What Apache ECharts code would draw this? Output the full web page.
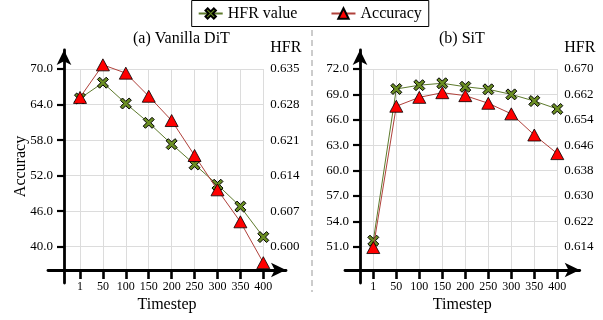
<!DOCTYPE html>
<html>
<head>
<meta charset="utf-8">
<script src="https://cdn.jsdelivr.net/npm/echarts@6/dist/echarts.min.js"></script>
<style>
  html, body { margin: 0; padding: 0; background: #fff; }
  #chart { width: 603px; height: 320px; }
</style>
</head>
<body>
<div id="chart"></div>
<script>
// timesteps on the x axis
const categories = ['1', '50', '100', '150', '200', '250', '300', '350', '400'];

// (a) Vanilla DiT
const ditHfr = [0.6292, 0.6323, 0.6282, 0.6244, 0.6202, 0.6162, 0.6122, 0.6079, 0.6019];
const ditAcc = [65.2, 70.7, 69.3, 65.4, 61.3, 55.4, 49.6, 44.2, 37.3];
const ditAccTicks = [40, 46, 52, 58, 64, 70];
const ditHfrTicks = [0.600, 0.607, 0.614, 0.621, 0.628, 0.635];

// (b) SiT
const sitHfr = [0.6159, 0.6637, 0.6649, 0.6655, 0.6644, 0.6636, 0.6620, 0.6599, 0.6574];
const sitAcc = [50.9, 67.6, 68.65, 69.2, 68.85, 67.95, 66.7, 64.2, 62.0];
const sitAccTicks = [51, 54, 57, 60, 63, 66, 69, 72];
const sitHfrTicks = [0.614, 0.622, 0.630, 0.638, 0.646, 0.654, 0.662, 0.670];

const FONT = 'Liberation Serif';
const W = 603, H = 320;
const TOP = 69, BOTTOM = 270, LOW_TICK_Y = 246.7;
const ARROW_TOP = 50, AXIS_END = 283;
const X_PATH = 'path://M2,0 L5,3 L8,0 L10,2 L7,5 L10,8 L8,10 L5,7 L2,10 L0,8 L3,5 L0,2 Z';

const panels = [
  { title: '(a) Vanilla DiT', titleLeft: 133, x0: 48, x1: 286, axisX: 64, cat0: 80, cat1: 263.3,
    acc: ditAcc, hfr: ditHfr, accTicks: ditAccTicks, hfrTicks: ditHfrTicks, yName: 'Accuracy' },
  { title: '(b) SiT', titleLeft: 439, x0: 345, x1: 579.7, axisX: 360, cat0: 373.3, cat1: 557.3,
    acc: sitAcc, hfr: sitHfr, accTicks: sitAccTicks, hfrTicks: sitHfrTicks, yName: '' },
];

// axis range so that the lowest tick sits above the x axis line
function range(ticks) {
  const max = ticks[ticks.length - 1];
  const ext = (BOTTOM - TOP) / (LOW_TICK_Y - TOP);
  return { min: max - (max - ticks[0]) * ext, max };
}

const arrowLine = {
  show: true, onZero: false, symbol: ['none', 'arrow'], symbolSize: [11, 15],
  lineStyle: { color: '#000', width: 2.8 },
};

const grid = [], xAxis = [], yAxis = [], series = [], title = [];

panels.forEach((p, i) => {
  const g = grid.length;
  grid.push(
    { left: p.x0, right: W - p.x1, top: ARROW_TOP, bottom: H - AXIS_END },
    { left: p.axisX, right: W - p.cat1, top: TOP, bottom: H - BOTTOM },
    { left: p.cat0, right: W - p.cat1, top: TOP, bottom: H - BOTTOM },
  );
  const accR = range(p.accTicks);
  const hfrR = range(p.hfrTicks);

  const xi = xAxis.length;
  xAxis.push(
    {
      gridIndex: g, type: 'value', min: 0, max: 1, offset: -(AXIS_END - BOTTOM), z: 5,
      axisLine: arrowLine, axisTick: { show: false }, axisLabel: { show: false }, splitLine: { show: false },
      name: 'Timestep', nameLocation: 'middle', nameGap: 27,
      nameTextStyle: { fontFamily: FONT, fontSize: 16, color: '#000' },
    },
    { gridIndex: g + 1, type: 'value', show: false },
    {
      gridIndex: g + 2, type: 'category', data: categories, boundaryGap: false,
      axisLine: { show: false },
      axisTick: { show: true, interval: 0, length: 9, lineStyle: { color: '#000', width: 2.6 } },
      axisLabel: { interval: 0, margin: 11, fontFamily: FONT, fontSize: 12, color: '#000' },
      splitLine: { show: true, interval: 0, lineStyle: { color: '#dcdcdc', width: 1 } },
    },
  );

  const yi = yAxis.length;
  yAxis.push(
    {
      gridIndex: g, type: 'value', min: 0, max: 1, offset: -(p.axisX - p.x0), z: 5,
      axisLine: arrowLine, axisTick: { show: false }, axisLabel: { show: false }, splitLine: { show: false },
      name: p.yName, nameLocation: 'middle', nameGap: 35,
      nameTextStyle: { fontFamily: FONT, fontSize: 16, color: '#000' },
    },
    {
      gridIndex: g + 1, type: 'value', position: 'left', min: accR.min, max: accR.max,
      axisLine: { show: false },
      axisTick: { show: true, length: 7, customValues: p.accTicks, lineStyle: { color: '#000', width: 2.2 } },
      axisLabel: { customValues: p.accTicks, margin: 11, fontFamily: FONT, fontSize: 13, color: '#000',
        formatter: (v) => v.toFixed(1) },
      splitLine: { show: true, lineStyle: { color: '#dcdcdc', width: 1 } },
    },
    {
      gridIndex: g + 1, type: 'value', position: 'right', min: hfrR.min, max: hfrR.max,
      axisLine: { show: false },
      axisTick: { show: false, customValues: p.hfrTicks },
      axisLabel: { customValues: p.hfrTicks, margin: 7, fontFamily: FONT, fontSize: 13, color: '#000',
        formatter: (v) => v.toFixed(3) },
      splitLine: { show: false },
      name: 'HFR', nameLocation: 'end', nameGap: 21.5,
      nameTextStyle: { fontFamily: FONT, fontSize: 16, color: '#000', align: 'left', verticalAlign: 'middle', padding: [0, 0, 0, 7] },
    },
    { gridIndex: g + 2, type: 'value', show: false, min: accR.min, max: accR.max },
    { gridIndex: g + 2, type: 'value', show: false, min: hfrR.min, max: hfrR.max },
  );

  series.push(
    {
      name: 'HFR value', type: 'line', xAxisIndex: xi + 2, yAxisIndex: yi + 4, data: p.hfr,
      symbol: X_PATH, symbolSize: 11, clip: false, z: 6,
      itemStyle: { color: '#6b8e23', borderColor: '#000', borderWidth: 1 },
      lineStyle: { color: '#5d7a2c', width: 1 },
    },
    {
      name: 'Accuracy', type: 'line', xAxisIndex: xi + 2, yAxisIndex: yi + 3, data: p.acc,
      symbol: 'triangle', symbolSize: [13, 12], clip: false, z: 7,
      itemStyle: { color: '#ff0000', borderColor: '#000', borderWidth: 0.8 },
      lineStyle: { color: '#b0413b', width: 1 },
    },
  );

  title.push({
    text: p.title, left: p.titleLeft, top: 31, padding: 0,
    textStyle: { fontFamily: FONT, fontSize: 16, fontWeight: 'normal', color: '#000' },
  });
});

const chart = echarts.init(document.getElementById('chart'), null, { renderer: 'canvas' });
chart.setOption({
  animation: false,
  backgroundColor: '#fff',
  title,
  legend: {
    data: ['HFR value', 'Accuracy'], left: 191.7, top: 0.5,
    itemWidth: 24, itemHeight: 13, itemGap: 33, padding: [5, 7, 5, 6],
    borderColor: '#000', borderWidth: 1,
    textStyle: { fontFamily: FONT, fontSize: 16, color: '#000' },
  },
  grid,
  xAxis,
  yAxis,
  series,
  graphic: [{
    type: 'line', shape: { x1: 312, y1: 30, x2: 312, y2: 292 },
    style: { stroke: '#999', lineDash: [6, 4], lineWidth: 1 },
  }],
});
</script>
</body>
</html>
